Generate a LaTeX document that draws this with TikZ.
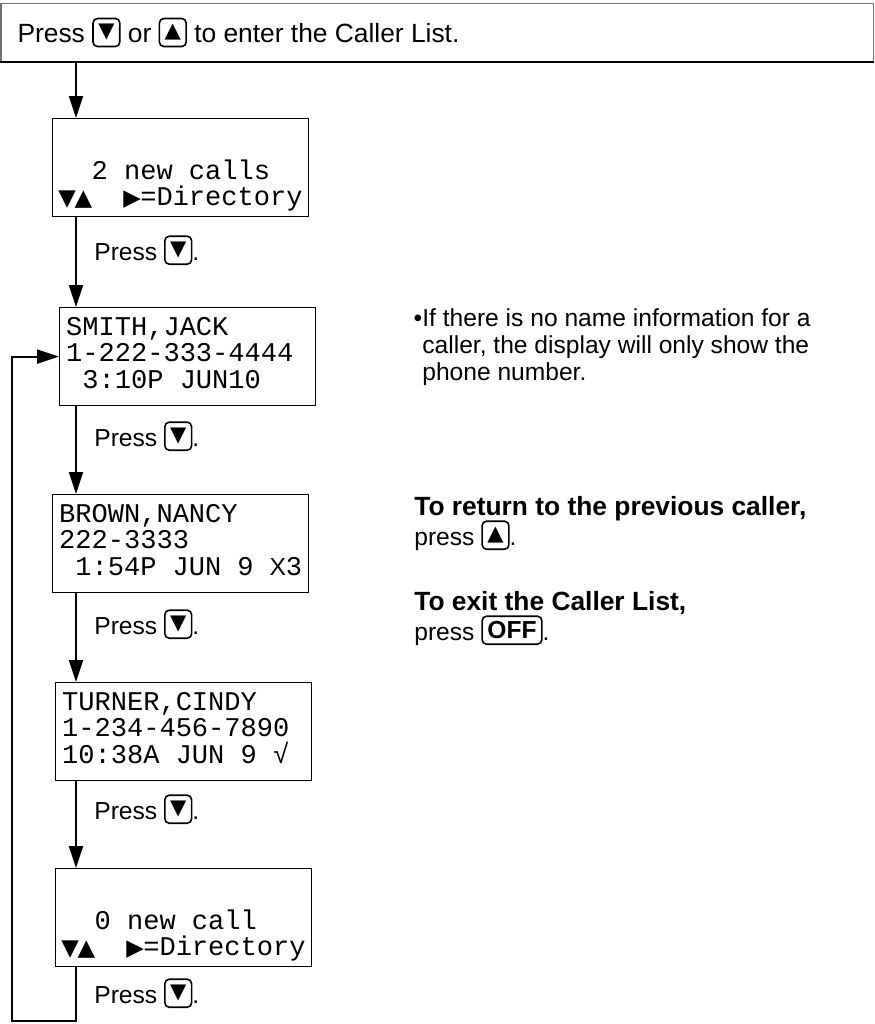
\documentclass[tikz,border=0pt]{standalone}
\usepackage{fontspec}
\setmainfont{Liberation Sans}
\newfontfamily\dispfam{Liberation Mono}
\newfontfamily\symfam{DejaVu Sans}
\usetikzlibrary{arrows.meta}
\newcommand\dispfont{\dispfam\fontsize{15.4}{15}\selectfont}
\newcommand\txtfont{\fontsize{14}{17}\selectfont}
\newcommand\headfont{\fontsize{15}{18}\selectfont}
\newcommand\blank{\hphantom{0}}
\newcommand\dcell[1]{\makebox[0.6em][c]{\symfam\fontsize{13}{13}\selectfont#1}}
\newcommand\xcell{\makebox[0.6em][c]{\rmfamily\fontsize{14}{14}\selectfont X}}
\newcommand\dlines[3]{\vbox{\hsize=4.86cm\lineskiplimit=-20pt
  \hbox to\hsize{\strut#1\hfil}\hbox to\hsize{\strut#2\hfil}\hbox to\hsize{\strut#3\hfil}}}
\newcommand\dlinesb[2]{\vbox{\hsize=4.86cm\lineskiplimit=-20pt\kern0.26cm
  \hbox to\hsize{\strut\hfil}\hbox to\hsize{\strut#1\hfil}\hbox to\hsize{\strut#2\hfil}}}
\newcommand\keycap[1]{\tikz[baseline={([yshift=0.1cm]kc.south)}]\node[keybox] (kc) {#1};}
\newcommand\keydown{\keycap{\symfam\fontsize{12}{12}\selectfont ▼}}
\newcommand\keyup{\keycap{\symfam\fontsize{12}{12}\selectfont ▲}}
\newcommand\keyoff{\keycap{\bfseries OFF}}
\tikzset{
  keybox/.style={draw=black, line width=0.9pt, rounded corners=2.5pt, anchor=center,
    inner xsep=3pt, inner ysep=0pt, minimum width=0.46cm, minimum height=0.56cm, text=black},
  display/.style={draw=black, line width=0.7pt, anchor=north west, minimum width=5.12cm,
    minimum height=1.96cm, inner xsep=0.13cm, inner ysep=0pt, font=\dispfont},
  flow/.style={line width=1.1pt, -{Triangle[length=0.44cm, width=0.28cm]}},
  presslbl/.style={anchor=base west, inner sep=0pt, font=\txtfont},
  note/.style={anchor=base west, inner sep=0pt, font=\txtfont},
  notehead/.style={anchor=base west, inner sep=0pt, font=\headfont\bfseries},
}
\begin{document}
\begin{tikzpicture}[x=0.02cm, y=-0.02cm]
\useasboundingbox (0,0) rectangle (875,1024);
% header
\node[anchor=north west, draw=black!55, line width=0.6pt, minimum width=17.46cm,
  minimum height=1.16cm, inner xsep=0.33cm, inner ysep=0pt, font=\headfont] (hdr) at (0.5,3)
  {\makebox[16.80cm][l]{Press \keydown{} or \keyup{} to enter the Caller List.}};
\draw[line width=1.1pt] (hdr.south west) -- (hdr.south east);
\coordinate (spine) at (76,0);
\coordinate (loopcorner) at (12,1021);
% displays
\node[display] (d1) at (52,118) {\dlinesb{\blank\blank 2 new calls}{\dcell{▼}\dcell{▲}\blank\blank\dcell{▶}=Directory}};
\node[display] (d2) at (59,307) {\dlines{SMITH,JACK}{1-222-333-4444}{\blank 3:10P JUN10}};
\node[display] (d3) at (52,494) {\dlines{BROWN,NANCY}{222-3333}{\blank 1:54P JUN 9 \xcell 3}};
\node[display] (d4) at (55,682) {\dlines{TURNER,CINDY}{1-234-456-7890}{10:38A JUN 9 √}};
\node[display] (d5) at (55,868) {\dlinesb{\blank\blank 0 new call}{\dcell{▼}\dcell{▲}\blank\blank\dcell{▶}=Directory}};
% flow
\draw[flow] (hdr.south -| spine) -- (d1.north -| spine);
\draw[flow] (d1.south -| spine) -- (d2.north -| spine);
\draw[flow] (d2.south -| spine) -- (d3.north -| spine);
\draw[flow] (d3.south -| spine) -- (d4.north -| spine);
\draw[flow] (d4.south -| spine) -- (d5.north -| spine);
\draw[flow] (d5.south -| spine) |- (loopcorner) |- (d2.west);
\node[presslbl] (p1) at (94,260) {Press \keydown.};
\node[presslbl] (p2) at (94,446) {Press \keydown.};
\node[presslbl] (p3) at (94,634) {Press \keydown.};
\node[presslbl] (p4) at (94,819) {Press \keydown.};
\node[presslbl] (p5) at (94,1003) {Press \keydown.};
% notes
\node[note] (n1) at (422,326) {\llap{•}If there is no name information for a};
\node[note] (n2) at (422,353) {caller, the display will only show the};
\node[note] (n3) at (422,380) {phone number.};
\node[notehead] (r1) at (414,515) {To return to the previous caller,};
\node[note] (r2) at (414,545) {press \keyup.};
\node[notehead] (x1) at (414,610) {To exit the Caller List,};
\node[note] (x2) at (414,640) {press \keyoff.};
\end{tikzpicture}
\end{document}
